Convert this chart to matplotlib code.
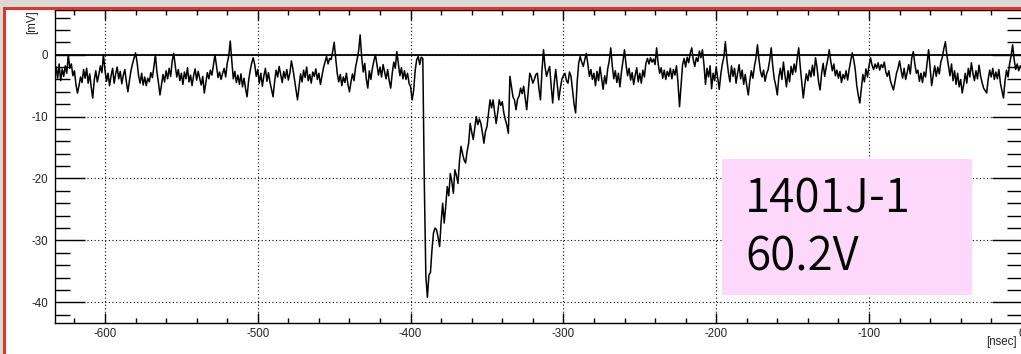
import numpy as np
import matplotlib
matplotlib.use("Agg")
import matplotlib.pyplot as plt
from matplotlib.ticker import MultipleLocator
from matplotlib.patches import Rectangle

plt.rcParams["axes.unicode_minus"] = False
plt.rcParams["font.family"] = ["Liberation Sans", "DejaVu Sans"]

# Waveform: one sample per ns, starting at T_START (ns); amplitude in mV
T_START = -632.0
T_STEP = 1.0
signal_mv = [
    # -632 .. -393
    -2.0, -3.8, -1.5, -4.2, -2.3, -3.5, -1.8, -3.0, 0.0, -2.2,
    -1.5, -3.4, -2.6, -4.8, -6.2, -5.0, -3.6, -4.5, -2.4, -3.8,
    -2.2, -4.6, -3.1, -5.2, -7.0, -4.1, -2.6, -4.4, -3.2, -1.8,
    -2.9, 0.0, -2.5, -4.3, -3.0, -5.0, -3.4, -2.2, -4.6, -3.1,
    -2.0, -3.9, -2.7, -4.7, -3.3, -2.4, -4.4, -6.0, -4.2, -2.6,
    -1.5, -0.6, 0.3, -1.2, -3.4, -4.6, -3.0, -4.9, -3.6, -5.0,
    -3.8, -4.4, -2.9, -3.7, -2.0, 0.0, -2.8, -4.5, -6.5, -4.8,
    -3.2, -4.4, -2.6, -3.9, -2.2, -3.5, -1.0, 0.2, -1.8, -3.6,
    -2.4, -4.2, -3.0, -4.8, -2.8, -3.9, -2.1, -4.4, -3.3, -5.0,
    -3.4, -2.3, -4.1, -2.7, -3.8, -4.9, -3.5, -6.2, -4.6, -2.9,
    -3.9, -2.5, -3.3, -1.6, 0.0, -1.9, -3.7, -2.8, -4.0, -3.0,
    -2.2, -3.6, -1.4, -0.2, 2.2, -1.0, -3.9, -2.7, -4.5, -3.3,
    -4.8, -3.1, -5.2, -3.8, -5.5, -6.8, -4.2, -2.6, -1.4, -0.5,
    -1.6, -3.5, -2.4, -4.6, -3.0, -5.1, -3.4, -2.2, -4.3, -2.9,
    -4.5, -5.6, -6.8, -4.4, -2.5, -3.6, -1.9, -3.2, -4.5, -2.7,
    -3.8, -2.4, -4.1, -3.0, -1.0, -2.3, -4.0, -5.6, -7.3, -5.2,
    -3.1, -4.4, -2.5, -3.7, -2.0, -4.2, -3.2, -4.6, -2.8, -3.5,
    -2.3, -4.0, -3.0, -4.8, -3.4, -2.1, -1.2, -0.3, -1.5, -0.6,
    -0.8, 0.5, 2.0, -0.6, -3.0, -4.4, -3.2, -5.0, -3.6, -4.5,
    -3.0, -4.8, -6.0, -4.4, -3.1, -4.2, -2.0, -0.8, 0.6, 3.2,
    -0.4, -2.8, -1.4, -3.9, -5.4, -2.6, -4.0, -2.2, -1.0, 0.0,
    -1.7, -3.3, -2.0, -3.6, -1.6, -2.8, -3.9, -2.4, -4.2, -5.4,
    -3.0, -1.2, -2.2, 0.5, -1.5, -3.4, -2.1, -3.9, -2.6, -4.0,
    -3.0, -4.6, -5.2, -7.3, -5.8, -2.6, -0.8, -0.3, -1.6, -0.4,
    # -392 .. -281 (pulse and recovery)
    -0.6, -21.0, -35.8, -39.2, -35.6, -35.2, -31.5, -28.8, -28.0, -28.3,
    -29.5, -31.0, -27.0, -24.0, -27.2, -24.5, -21.3, -22.8, -19.2, -20.5,
    -22.4, -18.6, -19.5, -20.8, -17.2, -14.8, -16.0, -17.0, -17.5, -15.6,
    -14.3, -11.1, -12.5, -13.7, -11.8, -10.0, -11.3, -10.4, -11.1, -12.6,
    -14.3, -12.4, -11.6, -9.5, -7.3, -8.6, -7.3, -9.3, -11.1, -9.4,
    -7.3, -8.2, -7.6, -9.4, -10.5, -11.4, -12.7, -3.5, -5.2, -6.8,
    -7.3, -8.9, -7.2, -6.7, -5.4, -6.3, -5.1, -7.0, -8.9, -6.0,
    -3.0, -3.6, -4.6, -4.0, -3.2, -3.0, -5.5, -7.3, -2.5, 0.8,
    -2.0, -3.5, -2.6, -1.9, -5.0, -7.8, -4.6, -2.4, -4.8, -7.3,
    -5.4, -4.0, -3.4, -3.0, -4.2, -4.6, -2.8, -3.5, -5.8, -8.0,
    -9.4, -4.5, -1.4, -0.3, -1.2, -1.9, -0.8, 0.2, -1.5, -3.5,
    -2.4, -4.0,
    # -280 .. -11
    -3.0, -5.0, -2.7, -4.2, -2.0, -3.8, -5.6, -3.4, -4.7, -2.3,
    -1.0, 1.1, -1.8, -3.9, -2.6, -4.5, -3.0, -5.2, -2.8, -1.0,
    0.8, -1.6, -3.4, -2.2, -4.1, -2.9, -4.8, -3.3, -2.1, -4.4,
    -3.0, -4.6, -2.5, -3.6, -1.4, -0.6, -1.5, -0.5, -1.2, -0.7,
    -1.6, 1.1, -1.4, -3.0, -2.1, -3.8, -2.5, -4.0, -2.7, -3.5,
    -2.2, -3.9, -2.4, -3.3, -1.8, -4.5, -8.4, -5.0, -1.6, -0.6,
    -2.0, -0.4, -1.3, 0.2, 1.1, -0.8, -1.9, -0.5, -1.1, 0.6,
    -0.5, 0.8, -1.6, -4.8, -2.2, -3.6, -1.8, -5.5, -3.0, -4.2,
    -2.0, -3.8, -5.6, -3.2, -1.5, -0.4, 2.1, -0.8, -2.9, -4.4,
    -1.8, -3.5, -2.2, -4.6, -3.0, -1.6, -3.9, -2.5, -4.8, -3.2,
    -5.0, -6.5, -4.2, -2.6, -3.8, -1.9, -0.6, 1.6, -0.8, -2.7,
    -3.6, -2.5, -4.3, -3.1, -2.4, -0.9, 1.1, -1.8, -3.9, -5.0,
    -6.5, -3.6, -2.2, -4.0, -1.2, -3.3, -5.2, -2.6, -4.4, -1.9,
    -3.2, -1.5, -2.8, -0.6, 1.1, -1.9, -4.5, -7.0, -4.8, -3.1,
    -4.2, -2.5, -3.6, -1.7, -3.4, -0.5, -2.1, -4.4, -5.7, -3.0,
    -1.4, -3.5, -2.0, -0.8, 0.8, -1.1, -2.6, -1.5, -3.4, -2.5,
    -3.8, -2.7, -4.5, -3.2, -3.9, -2.6, -4.1, -2.4, -1.0, 0.3,
    -0.8, -2.4, -5.0, -6.6, -7.8, -5.5, -3.2, -4.4, -2.3, -3.6,
    -1.8, -0.5, -1.7, -2.4, -1.5, -2.2, -1.3, -2.5, -1.6, -2.1,
    -1.2, -2.8, -3.5, -2.6, -4.2, -5.0, -5.7, -4.4, -3.0, -2.2,
    -1.0, -2.5, -3.8, -2.2, -4.0, -2.9, -1.6, -3.1, -0.5, 0.5,
    -1.5, -3.0, -2.5, -4.3, -3.0, -4.5, -2.8, -3.6, -1.4, 0.8,
    -2.2, -5.0, -3.4, -1.8, -3.5, -2.0, -3.1, -1.2, -0.4, 1.0,
    2.1, -0.2, -1.8, -3.4, -1.5, -4.2, -2.6, -4.8, -3.0, -5.2,
    -4.0, -6.2, -4.8, -3.0, -4.6, -2.2, -3.6, -1.3, -3.0, -4.2,
    -2.6, -3.9, -1.7, -3.4, -4.5, -5.4, -5.8, -6.2, -4.0, -2.5,
    -3.6, -2.2, -4.0, -2.8, -3.9, -2.4, -4.6, -5.8, -7.0, -4.3,
    # -10 .. 0
    -2.5, -3.6, -1.5, -0.2, 1.6, -0.8, -2.4, -1.5, -2.6, -1.8, -2.2,
]

X_LIMITS = (-632.7, 0.0)
Y_LIMITS = (-43.3, 7.3)
label_lines = ["1401J-1", "60.2V"]

W, H = 1021, 354
fig = plt.figure(figsize=(W / 100, H / 100), dpi=100)
fig.patch.set_facecolor("white")

ax = fig.add_axes([55 / W, 1 - 322.7 / H, (1021.8 - 55) / W, (322.7 - 9.5) / H])
ax.set_facecolor("white")

t = T_START + np.arange(len(signal_mv)) * T_STEP
ax.plot(t, signal_mv, color="black", lw=1.1, zorder=3)
ax.axhline(0, color="black", lw=1.3, zorder=2.5)

ax.set_xlim(*X_LIMITS)
ax.set_ylim(*Y_LIMITS)

ax.xaxis.set_major_locator(MultipleLocator(100))
ax.xaxis.set_minor_locator(MultipleLocator(20))
ax.yaxis.set_major_locator(MultipleLocator(10))
ax.yaxis.set_minor_locator(MultipleLocator(2))

ax.grid(True, which="major", color="black", lw=0.8, linestyle=(0, (1, 2.2)))

ax.tick_params(axis="both", which="both", direction="in", top=True, right=True,
               colors="black", labelcolor="#222222", labelsize=8.3, width=1.0)
ax.tick_params(axis="y", which="major", length=21.6, pad=5)
ax.tick_params(axis="y", which="minor", length=10.8)
ax.tick_params(axis="x", which="major", length=7.2, pad=3.5)
ax.tick_params(axis="x", which="minor", length=3.6)

for s in ax.spines.values():
    s.set_linewidth(1.0)
    s.set_color("black")

# Axis titles in the corners
fig.text(32 / W, 1 - 10 / H, "[mV]", rotation=90, ha="center", va="top",
         fontsize=8.3, color="#222222")
fig.text(1017 / W, 1 - 342 / H, "[nsec]", ha="right", va="center",
         fontsize=8.3, color="#222222")

# Annotation box
box = Rectangle((722 / W, 1 - 295 / H), 250 / W, 136 / H, transform=fig.transFigure,
                facecolor="#fdd8fb", edgecolor="none", zorder=5)
fig.add_artist(box)
for line, base_px in zip(label_lines, [212.7, 270.7]):
    fig.text(745 / W, 1 - base_px / H, line, ha="left", va="baseline",
             fontsize=33, fontweight=350, color="black", zorder=6,
             family=["Noto Sans CJK JP", "DejaVu Sans"])

# Canvas frame: textured strip and red selection border
fig.add_artist(Rectangle((0, 1 - 7 / H), 1, 7 / H, transform=fig.transFigure,
                         facecolor="#dcd8d3", edgecolor="none", zorder=7))
fig.add_artist(Rectangle((0, 0), 3 / W, 1, transform=fig.transFigure,
                         facecolor="#dcd8d3", edgecolor="none", zorder=7))
fig.add_artist(Rectangle((3 / W, 1 - 10 / H), 1, 3 / H, transform=fig.transFigure,
                         facecolor="#e8302c", edgecolor="none", zorder=8))
fig.add_artist(Rectangle((3 / W, 0), 3 / W, 1 - 7 / H, transform=fig.transFigure,
                         facecolor="#e8302c", edgecolor="none", zorder=8))

fig.savefig("out.png", dpi=100)
